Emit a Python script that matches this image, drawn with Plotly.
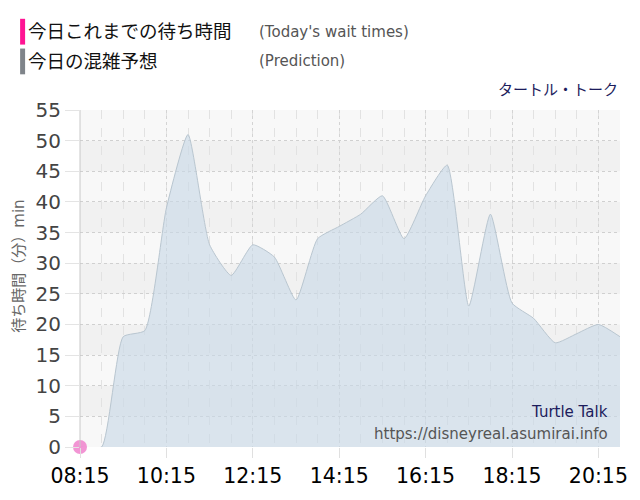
import plotly.graph_objects as go

# ---- data ----
pred_times = ["08:15", "08:45", "09:15", "09:45", "10:15", "10:45", "11:15", "11:45",
              "12:15", "12:45", "13:15", "13:45", "14:15", "14:45", "15:15", "15:45",
              "16:15", "16:45", "17:15", "17:45", "18:15", "18:45", "19:15", "19:45",
              "20:15", "20:45"]
pred_values = [0, 0, 18, 19, 39, 51, 33, 28, 33, 31, 24, 34, 36, 38, 41, 34,
               41, 46, 23, 38, 23.5, 21, 17, 18.5, 20, 18]
actual_times = ["08:15"]
actual_values = [0]
tick_labels = ["08:15", "10:15", "12:15", "14:15", "16:15", "18:15", "20:15"]
y_ticks = [0, 5, 10, 15, 20, 25, 30, 35, 40, 45, 50, 55]

DAY = "2024-01-01 "
def ts(t):
    return DAY + t + ":00"

# plot area in pixels
W, H = 640, 500
L, R, T, B = 80, 621, 110, 450

def px_x(x):
    return (x - L) / (R - L)

def px_y(y):
    return (B - y) / (B - T)

fig = go.Figure()

fig.add_trace(go.Scatter(
    x=[ts(t) for t in pred_times], y=pred_values,
    mode="lines", line=dict(color="#b9c6d0", width=1, shape="spline", smoothing=0.5),
    fill="tozeroy", fillcolor="rgba(200,216,230,0.62)",
    hoverinfo="skip", showlegend=False,
))
fig.add_trace(go.Scatter(
    x=[ts(t) for t in actual_times], y=actual_values,
    mode="markers", marker=dict(size=14, color="rgba(240,130,205,0.85)"),
    cliponaxis=False, showlegend=False,
))

shapes = []
# alternating bands
for lo in [5, 15, 25, 35, 45]:
    shapes.append(dict(type="rect", xref="paper", yref="y", x0=0, x1=1, y0=lo, y1=lo + 5,
                       fillcolor="#f1f1f1", line_width=0, layer="below"))
# legend bars
shapes.append(dict(type="rect", xref="paper", yref="paper",
                   x0=px_x(20), x1=px_x(25), y0=px_y(44), y1=px_y(18),
                   fillcolor="#ff1493", line_width=0))
shapes.append(dict(type="rect", xref="paper", yref="paper",
                   x0=px_x(20), x1=px_x(25), y0=px_y(74), y1=px_y(48),
                   fillcolor="#7f848a", line_width=0))
# left axis line
shapes.append(dict(type="line", xref="paper", yref="paper", x0=0, x1=0, y0=0, y1=1,
                   line=dict(color="#c8c8c8", width=1)))

ann = []
def text(x, y, s, size, color, xanchor="left", angle=0):
    ann.append(dict(x=px_x(x), y=px_y(y), xref="paper", yref="paper", text=s,
                    showarrow=False, xanchor=xanchor, yanchor="middle", textangle=angle,
                    font=dict(size=size, color=color,
                              family="DejaVu Sans, Noto Sans CJK JP")))

text(26, 31, "今日これまでの待ち時間", 18.5, "#111")
text(257, 31, "(Today's wait times)", 15, "#555")
text(26, 61, "今日の混雑予想", 18.5, "#111")
text(257, 61, "(Prediction)", 15, "#555")
text(621, 90, "タートル・トーク", 15, "#1c1c5c", xanchor="right")
text(611, 415, "Turtle Talk", 15, "#1c1c5c", xanchor="right")
text(611, 437, "https://disneyreal.asumirai.info", 15, "#555", xanchor="right")
text(18, 268, "待ち時間（分）min", 15, "#666", xanchor="center", angle=-90)

fig.update_layout(
    width=W, height=H,
    margin=dict(l=L, r=W - R, t=T, b=H - B),
    paper_bgcolor="white", plot_bgcolor="#f8f8f8",
    shapes=shapes, annotations=ann, showlegend=False,
    font=dict(family="DejaVu Sans, Noto Sans CJK JP"),
)
fig.update_xaxes(
    type="date", range=[ts("08:15"), ts("20:45")],
    tickvals=[ts(t) for t in tick_labels], ticktext=tick_labels,
    tickfont=dict(size=20.5, color="#000"),
    showgrid=True, gridcolor="#d4d4d4", griddash="dot", gridwidth=1,
    ticks="outside", ticklen=10, tickcolor="#e0e0e0",
    minor=dict(dtick=30 * 60 * 1000, tick0=ts("08:15"), showgrid=True,
               gridcolor="#e2e2e2", griddash="dash", gridwidth=1),
    zeroline=False, showline=False, fixedrange=True,
)
fig.update_yaxes(
    range=[0, 55], tickvals=y_ticks,
    tickfont=dict(size=20, color="#444"),
    showgrid=True, gridcolor="#d0d0d0", griddash="dot", gridwidth=1,
    ticks="outside", ticklen=14, tickcolor="#e4e4e4",
    zeroline=False, showline=False, fixedrange=True,
)

fig.write_html("out.html", config={"displayModeBar": False},
               post_script="document.body.style.margin='0px';")
